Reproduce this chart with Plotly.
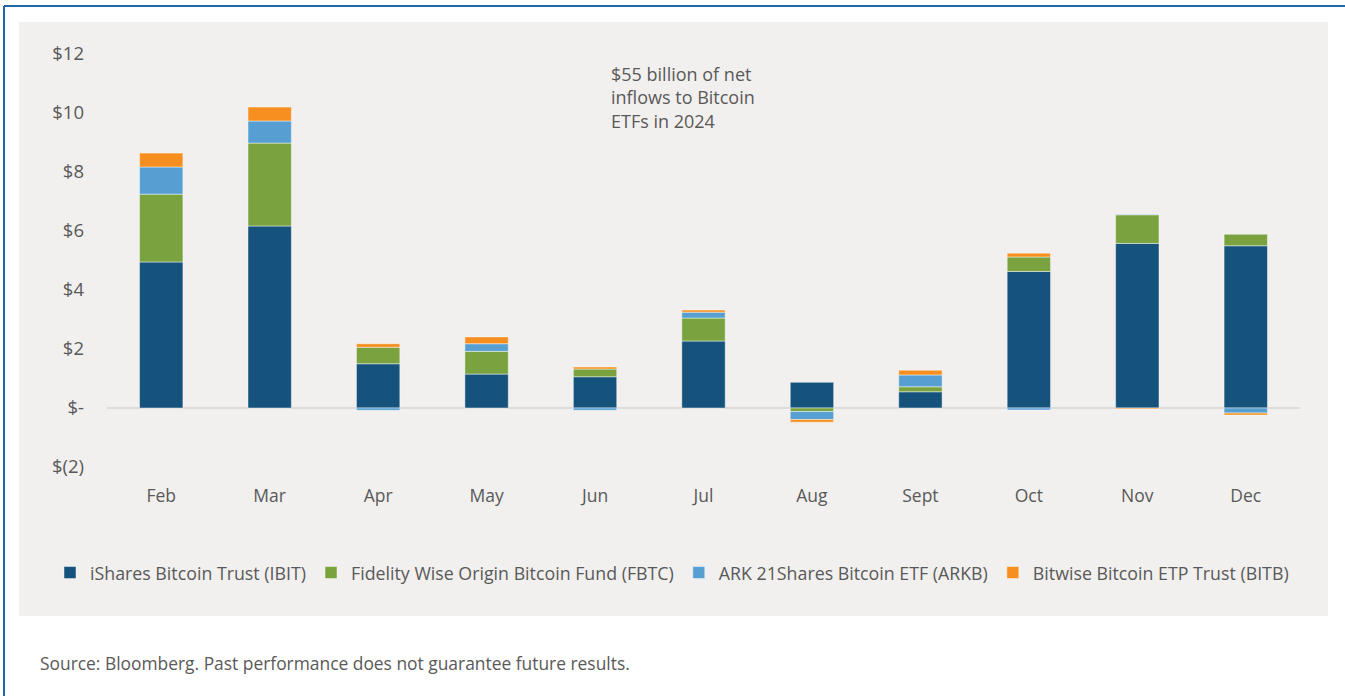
import plotly.graph_objects as go

months = ["Feb", "Mar", "Apr", "May", "Jun", "Jul", "Aug", "Sept", "Oct", "Nov", "Dec"]
ibit = [4.95, 6.17, 1.50, 1.15, 1.06, 2.27, 0.87, 0.55, 4.63, 5.58, 5.50]
fbtc = [2.30, 2.81, 0.56, 0.77, 0.26, 0.78, -0.12, 0.17, 0.49, 0.97, 0.39]
arkb = [0.92, 0.75, -0.08, 0.26, -0.08, 0.20, -0.27, 0.40, -0.07, 0.02, -0.17]
bitb = [0.47, 0.47, 0.12, 0.23, 0.07, 0.07, -0.09, 0.16, 0.13, -0.03, -0.07]

series_names = [
    "iShares Bitcoin Trust (IBIT)",
    "Fidelity Wise Origin Bitcoin Fund (FBTC)",
    "ARK 21Shares Bitcoin ETF (ARKB)",
    "Bitwise Bitcoin ETP Trust (BITB)",
]
series_values = [ibit, fbtc, arkb, bitb]
series_colors = ["#15527c", "#7aa340", "#579fd3", "#f68f1f"]

tick_vals = [-2, 0, 2, 4, 6, 8, 10, 12]
tick_text = ["$(2)", "$-", "$2", "$4", "$6", "$8", "$10", "$12"]

FONT = "Open Sans"
GREY = "#595959"

fig = go.Figure()
for name, vals, col in zip(series_names, series_values, series_colors):
    fig.add_trace(go.Bar(
        x=months, y=vals, name=name,
        marker=dict(color=col, line=dict(color="rgba(255,255,255,0.45)", width=1)),
    ))

# plot area in px: x 107..1300, y 54..467
L, R, T, B = 107, 1300, 54, 467
W, H = R - L, B - T
def px(x):
    return (x - L) / W
def py(y):
    return (B - y) / H

shapes = [
    dict(type="rect", xref="paper", yref="paper", x0=px(19), x1=px(1328), y0=py(616), y1=py(22),
         fillcolor="#f1f0ee", line=dict(width=0), layer="below"),
    dict(type="line", xref="paper", yref="paper", x0=px(4), x1=px(1345), y0=py(6), y1=py(6),
         line=dict(color="#2366a3", width=2)),
    dict(type="line", xref="paper", yref="paper", x0=px(4), x1=px(4), y0=py(6), y1=py(696),
         line=dict(color="#2366a3", width=2)),
]

fig.update_layout(
    width=1345, height=696,
    margin=dict(l=L, r=1345 - R, t=T, b=696 - B),
    barmode="relative", bargap=0.6,
    paper_bgcolor="white", plot_bgcolor="rgba(0,0,0,0)",
    font=dict(family=FONT, color=GREY, size=16),
    shapes=shapes,
    showlegend=True,
    legend=dict(orientation="h", x=px(50), xanchor="left", y=py(573), yanchor="middle",
                font=dict(family=FONT, size=17.8, color=GREY), bgcolor="rgba(0,0,0,0)",
                traceorder="normal"),
    xaxis=dict(showgrid=False, showline=False, ticks="", tickfont=dict(size=17.5, color=GREY),
               ticklabelstandoff=16, fixedrange=True),
    yaxis=dict(range=[-2, 12], tickvals=tick_vals, ticktext=tick_text, showgrid=False,
               zeroline=True, zerolinecolor="#dcdcdc", zerolinewidth=1.5, showline=False,
               tickfont=dict(size=18.5, color=GREY), ticklabelstandoff=22, fixedrange=True),
    annotations=[
        dict(xref="paper", yref="paper", x=px(609), y=py(60), xanchor="left", yanchor="top",
             align="left", showarrow=False,
             text="$55 billion of net<br>inflows to Bitcoin<br>ETFs in 2024",
             font=dict(family=FONT, size=18, color=GREY)),
        dict(xref="paper", yref="paper", x=px(38), y=py(663), xanchor="left", yanchor="middle",
             align="left", showarrow=False,
             text="Source: Bloomberg. Past performance does not guarantee future results.",
             font=dict(family=FONT, size=17.4, color=GREY)),
    ],
)

fig.write_html("out.html", config={"displayModeBar": False},
               post_script="document.body.style.margin='0';document.body.style.overflow='hidden';")
